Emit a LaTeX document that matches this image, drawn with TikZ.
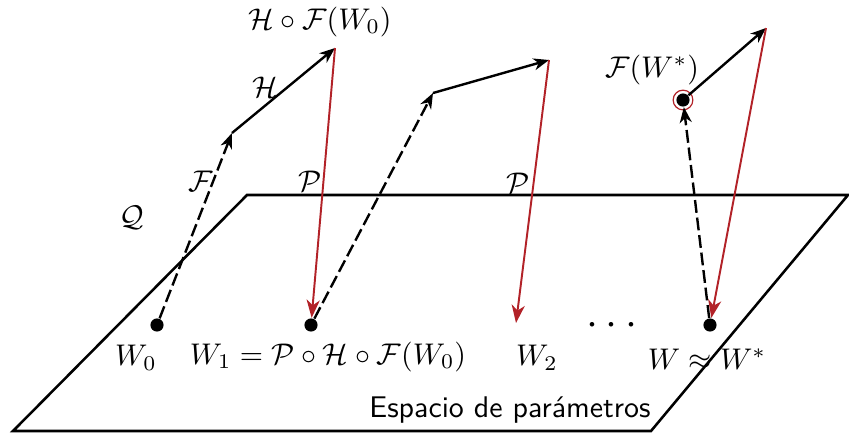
\documentclass[tikz,border=0pt]{standalone}
\usetikzlibrary{arrows.meta}
\definecolor{pred}{RGB}{178,34,40}
\begin{document}
\begin{tikzpicture}[x=0.3345pt,y=-0.3345pt,
  dotnode/.style={circle,fill=black,inner sep=0pt,minimum size=4.4pt},
  lbl/.style={inner sep=0pt},
  tip/.style={-{Stealth[length=5.2pt,width=4pt,inset=1.6pt]}},
  fmap/.style={tip,line width=0.8pt,dash pattern=on 4.3pt off 1.6pt},
  hmap/.style={tip,line width=0.8pt},
  pmap/.style={draw=pred,line width=0.65pt,-{Stealth[length=6pt,width=4.4pt,inset=1.8pt]}},
  plane/.style={line width=0.85pt}]
\useasboundingbox (0,0) rectangle (849,433);
% plane
\coordinate (p1) at (13,431);
\coordinate (p2) at (247,195);
\coordinate (p3) at (848,195);
\coordinate (p4) at (651,431);
\draw[plane] (p1) -- (p2) -- (p3) -- (p4) -- cycle;
% points
\node[dotnode] (w0) at (157,325) {};
\node[dotnode] (w1) at (311,325) {};
\node[dotnode] (wf) at (710,325) {};
\node[dotnode] (fw) at (683,100) {};
\draw[pred,line width=0.4pt] (fw) circle (3.3pt);
\coordinate (a1) at (232,133);
\coordinate (a2) at (335,48);
\coordinate (b1) at (433,93);
\coordinate (b2) at (549,60);
\coordinate (w2t) at (516,323);
\coordinate (c2) at (766,28);
% arrows
\draw[fmap] (w0) -- (a1);
\draw[hmap] (a1) -- (a2);
\draw[pmap] (a2) -- (w1);
\draw[fmap] (w1) -- (b1);
\draw[hmap] (b1) -- (b2);
\draw[pmap] (b2) -- (w2t);
\draw[fmap] (wf) -- (fw);
\draw[hmap] (fw) -- (c2);
\draw[pmap] (c2) -- (wf);
% labels
\node[lbl] (l1) at (320,22) {$\mathcal{H}\circ\mathcal{F}(W_0)$};
\node[lbl] (l2) at (265,87) {$\mathcal{H}$};
\node[lbl] (l3) at (201,181) {$\mathcal{F}$};
\node[lbl] (l4) at (310,181) {$\mathcal{P}$};
\node[lbl] (l5) at (132,218) {$\mathcal{Q}$};
\node[lbl] (l6) at (518,183) {$\mathcal{P}$};
\node[lbl] (l7) at (652,70) {$\mathcal{F}(W^{*})$};
\node[lbl] (l8) at (136,358) {$W_0$};
\node[lbl] (l9) at (328,357) {$W_1=\mathcal{P}\circ\mathcal{H}\circ\mathcal{F}(W_0)$};
\node[lbl] (l10) at (537,358) {$W_2$};
\node[lbl] (l11) at (612,326) {\Large$\cdots$};
\node[lbl] (l12) at (707,359) {$W\approx W^{*}$};
\node[lbl] (l13) at (510,410) {\sffamily Espacio de par\'ametros};
\end{tikzpicture}
\end{document}
